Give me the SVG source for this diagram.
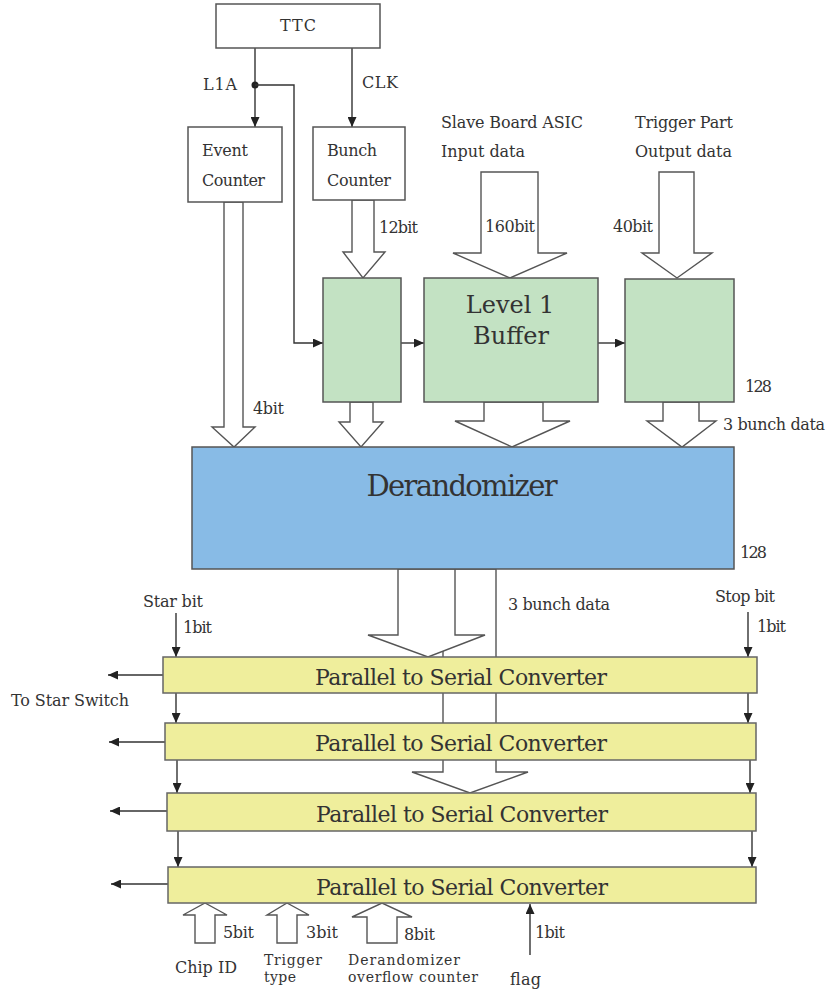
<svg xmlns="http://www.w3.org/2000/svg" width="827" height="991" viewBox="0 0 827 991">
<style>
text{font-family:"DejaVu Serif","Liberation Serif",serif;fill:#333}
.lbl{font-size:16px}
.sm{font-size:14px}
.box{fill:#fff;stroke:#555;stroke-width:1.5}
.grn{fill:#c3e2c3;stroke:#555;stroke-width:1.5}
.blu{fill:#88bbe6;stroke:#555;stroke-width:1.5}
.yel{fill:#efee9c;stroke:#666;stroke-width:1.5}
.hol{fill:#fff;stroke:#555;stroke-width:1.4;stroke-linejoin:miter}
.ln{fill:none;stroke:#333;stroke-width:1.4}
.arr{fill:none;stroke:#333;stroke-width:1.4;marker-end:url(#ah)}
</style>
<defs>
<marker id="ah" markerUnits="userSpaceOnUse" markerWidth="10" markerHeight="9" refX="10" refY="4.5" orient="auto">
<path d="M0,0 L10,4.5 L0,9 z" fill="#222"/>
</marker>
</defs>
<rect width="827" height="991" fill="#fff"/>

<g id="connectors">
<line class="arr" x1="255" y1="48" x2="255" y2="127"/>
<circle cx="255" cy="85" r="3.5" fill="#222"/>
<path class="arr" d="M255,85 H294 V343 H323"/>
<line class="arr" x1="352" y1="48" x2="352" y2="127"/>
<polygon class="hol" points="224,202 243,202 243,427 255,427 234,447 212,427 224,427"/>
<polygon class="hol" points="352,200 374,200 374,252 385,252 363,278 343,252 352,252"/>
<polygon class="hol" points="481,172 538,172 538,253 567,253 510,278 453,253 481,253"/>
<polygon class="hol" points="659,172 694,172 694,253 712,253 677,278 642,253 659,253"/>
<line class="arr" x1="401" y1="343" x2="424" y2="343"/>
<line class="arr" x1="598" y1="343" x2="625" y2="343"/>
<polygon class="hol" points="350,402 373,402 373,422 383,422 361,447 339,422 350,422"/>
<polygon class="hol" points="484,402 543,402 543,421 570,421 512,447 455,421 484,421"/>
<polygon class="hol" points="663,402 699,402 699,421 716,421 682,447 647,421 663,421"/>
<polygon class="hol" points="443,569 496,569 496,772 528,772 470,793 412,772 443,772"/>
<polygon class="hol" points="398,569 455,569 455,635 485,635 428,657 368,635 398,635"/>
<line class="arr" x1="176" y1="613" x2="176" y2="657"/>
<line class="arr" x1="748" y1="612" x2="748" y2="657"/>
<line class="arr" x1="176" y1="693" x2="176" y2="723"/>
<line class="arr" x1="748" y1="693" x2="748" y2="723"/>
<line class="arr" x1="177" y1="760" x2="177" y2="793"/>
<line class="arr" x1="750" y1="760" x2="750" y2="793"/>
<line class="arr" x1="178" y1="831" x2="178" y2="867"/>
<line class="arr" x1="752" y1="831" x2="752" y2="867"/>
<line class="arr" x1="163" y1="675" x2="108" y2="675"/>
<line class="arr" x1="165" y1="742" x2="109" y2="742"/>
<line class="arr" x1="167" y1="811" x2="110" y2="811"/>
<line class="arr" x1="168" y1="884" x2="111" y2="884"/>
<polygon class="hol" points="195,943 215,943 215,915 227,915 205,903 183,915 195,915"/>
<polygon class="hol" points="277,943 297,943 297,915 309,915 287,903 267,915 277,915"/>
<polygon class="hol" points="367,943 397,943 397,917 412,917 382,903 352,917 367,917"/>
<line class="arr" x1="530" y1="955" x2="530" y2="904"/>
</g>

<g id="ttc"><rect class="box" x="216" y="4" width="164" height="44"/><text class="lbl" x="298" y="31" text-anchor="middle" textLength="36">TTC</text></g>
<g id="event-counter"><rect class="box" x="188" y="127" width="94" height="75"/><text class="lbl" x="202" y="156" textLength="46">Event</text><text class="lbl" x="202" y="186" textLength="63">Counter</text></g>
<g id="bunch-counter"><rect class="box" x="313" y="127" width="92" height="73"/><text class="lbl" x="327" y="156" textLength="50">Bunch</text><text class="lbl" x="327" y="186" textLength="64">Counter</text></g>
<g id="bcid-buffer"><rect class="grn" x="323" y="278" width="78" height="124"/></g>
<g id="level1-buffer"><rect class="grn" x="424" y="278" width="174" height="124"/><text x="510" y="313" text-anchor="middle" font-size="24" fill="#1e331e">Level 1</text><text x="511" y="344" text-anchor="middle" font-size="24" fill="#1e331e">Buffer</text></g>
<g id="trigger-buffer"><rect class="grn" x="625" y="279" width="109" height="123"/></g>
<g id="derandomizer"><rect class="blu" x="192" y="447" width="542" height="122"/><text x="462" y="496" text-anchor="middle" font-size="29" fill="#141a33" textLength="191">Derandomizer</text></g>
<g id="psc1"><rect class="yel" x="163" y="657" width="594" height="36"/><text x="461" y="685" text-anchor="middle" font-size="22" fill="#262612" textLength="292">Parallel to Serial Converter</text></g>
<g id="psc2"><rect class="yel" x="165" y="723" width="591" height="37"/><text x="461" y="751" text-anchor="middle" font-size="22" fill="#262612" textLength="292">Parallel to Serial Converter</text></g>
<g id="psc3"><rect class="yel" x="167" y="793" width="589" height="38"/><text x="462" y="822" text-anchor="middle" font-size="22" fill="#262612" textLength="292">Parallel to Serial Converter</text></g>
<g id="psc4"><rect class="yel" x="168" y="867" width="588" height="36"/><text x="462" y="895" text-anchor="middle" font-size="22" fill="#262612" textLength="292">Parallel to Serial Converter</text></g>

<g id="labels">
<text class="lbl" x="203" y="90" textLength="34">L1A</text>
<text class="lbl" x="362" y="88" textLength="36">CLK</text>
<text class="lbl" x="379" y="233" textLength="39">12bit</text>
<text class="lbl" x="441" y="128" textLength="142">Slave Board ASIC</text>
<text class="lbl" x="441" y="157" textLength="84">Input data</text>
<text class="lbl" x="485" y="232" textLength="50">160bit</text>
<text class="lbl" x="635" y="128" textLength="98">Trigger Part</text>
<text class="lbl" x="635" y="157" textLength="97">Output data</text>
<text class="lbl" x="613" y="232" textLength="40">40bit</text>
<text class="lbl" x="745" y="392" textLength="27">128</text>
<text class="lbl" x="253" y="414" textLength="31">4bit</text>
<text class="lbl" x="723" y="430" textLength="102">3 bunch data</text>
<text class="lbl" x="740" y="558" textLength="27">128</text>
<text class="lbl" x="508" y="610" textLength="102">3 bunch data</text>
<text class="lbl" x="143" y="607" textLength="60">Star bit</text>
<text class="lbl" x="183" y="633" textLength="29">1bit</text>
<text class="lbl" x="715" y="602" textLength="60">Stop bit</text>
<text class="lbl" x="757" y="632" textLength="29">1bit</text>
<text class="lbl" x="11" y="706" textLength="118">To Star Switch</text>
<text class="lbl" x="223" y="938" textLength="31">5bit</text>
<text class="lbl" x="306" y="938" textLength="32">3bit</text>
<text class="lbl" x="404" y="940" textLength="31">8bit</text>
<text class="lbl" x="535" y="938" textLength="30">1bit</text>
<text class="lbl" x="175" y="973" textLength="62">Chip ID</text>
<text class="sm" x="264" y="965" textLength="58">Trigger</text>
<text class="sm" x="264" y="982" textLength="32">type</text>
<text class="sm" x="348" y="965" textLength="112">Derandomizer</text>
<text class="sm" x="348" y="982" textLength="130">overflow counter</text>
<text class="lbl" x="510" y="985" textLength="31">flag</text>
</g>
</svg>
